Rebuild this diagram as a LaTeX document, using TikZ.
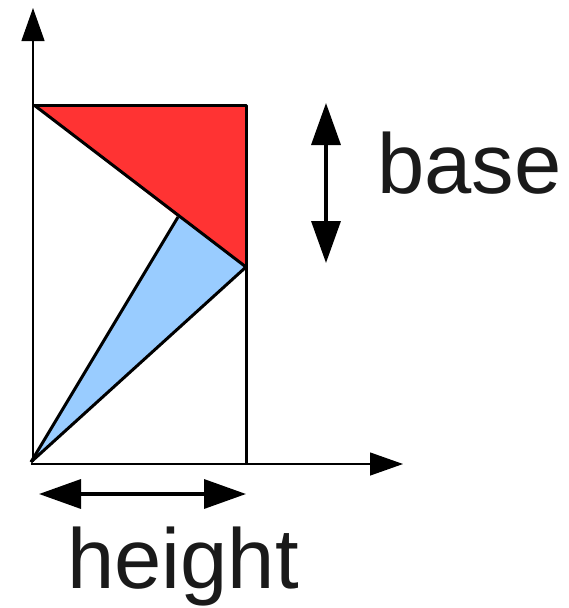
\documentclass[tikz,border=0pt]{standalone}
\usepackage{fontspec}
\setmainfont{Liberation Sans}
\usetikzlibrary{arrows.meta}
\definecolor{redfill}{HTML}{FF3333}
\definecolor{bluefill}{HTML}{99CCFF}
\definecolor{txt}{HTML}{1A1A1A}
\begin{document}
\begin{tikzpicture}[x=1pt,y=-1pt,
  axis/.style={line width=1.3pt,-{Triangle[length=33pt,width=23pt]}},
  edge/.style={line width=3pt,line join=round},
  dim/.style={line width=3.5pt,{Triangle[length=42pt,width=29pt]}-{Triangle[length=42pt,width=29pt]}},
  lbl/.style={inner sep=0pt,anchor=base west,text=txt,font=\fontsize{85pt}{90pt}\selectfont}]
\useasboundingbox (0,0) rectangle (568,608);
% points
\coordinate (O) at (31,462);
\coordinate (Yend) at (33,8);
\coordinate (Xend) at (403,464);
\coordinate (TL) at (34,105);
\coordinate (TR) at (246,105);
\coordinate (R) at (246,267);
\coordinate (M) at (178,217);
\coordinate (B) at (246,463);
% axes
\coordinate (Ystart) at (33,462);
\coordinate (Xstart) at (31,464);
\draw[axis] (Ystart) -- (Yend);
\draw[axis] (Xstart) -- (Xend);
% filled shapes
\fill[redfill] (TL) -- (TR) -- (R) -- (M) -- cycle;
\fill[bluefill] (O) -- (M) -- (R) -- cycle;
\draw[edge] (TL) -- (TR) -- (B);
\draw[edge] (TL) -- (R);
\draw[edge] (O) -- (M);
\draw[edge] (O) -- (R);
% dimension arrows
\coordinate (Ba) at (326,103);
\coordinate (Bb) at (326,263);
\draw[dim] (Ba) -- (Bb);
\coordinate (Ha) at (39,494);
\coordinate (Hb) at (246,494);
\draw[dim] (Ha) -- (Hb);
% labels
\node[lbl] (base) at (377,193) {base};
\node[lbl] (height) at (67,588) {height};
\end{tikzpicture}
\end{document}
